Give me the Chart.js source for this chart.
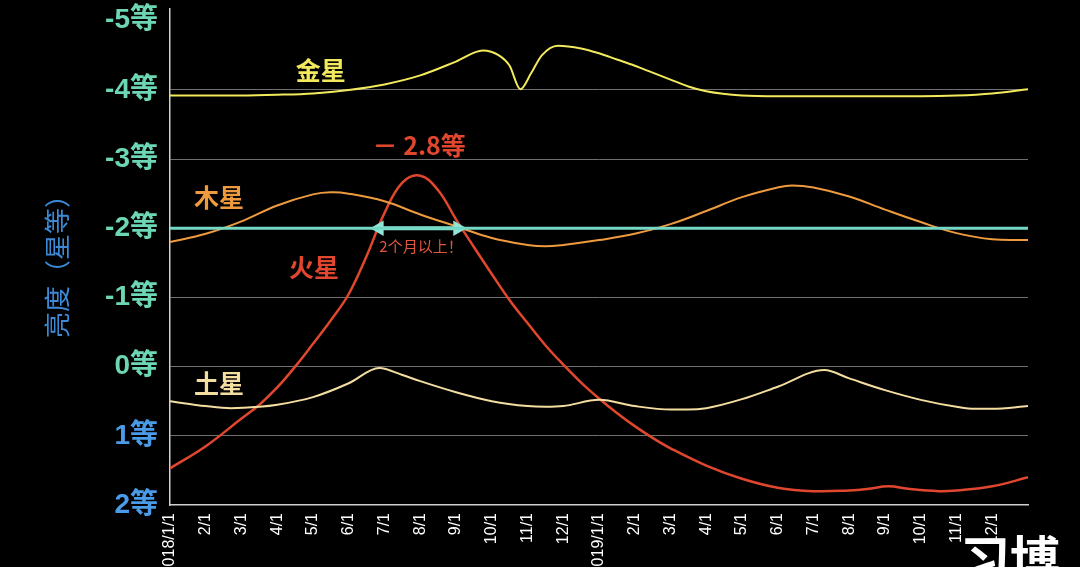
<!DOCTYPE html>
<html>
<head>
<meta charset="utf-8">
<script src="https://cdn.jsdelivr.net/npm/chart.js@4"></script>
<style>
  html, body { margin: 0; padding: 0; background: #000; }
  #wrap { width: 1080px; height: 567px; position: relative; }
</style>
</head>
<body>
<div id="wrap"><canvas id="planetChart" width="1080" height="567"></canvas></div>
<script>
// x = months since 2018/1/1, y = magnitude (smaller = brighter)
const tickLabels = ['2018/1/1', '2/1', '3/1', '4/1', '5/1', '6/1', '7/1', '8/1', '9/1', '10/1', '11/1', '12/1',
    '2019/1/1', '2/1', '3/1', '4/1', '5/1', '6/1', '7/1', '8/1', '9/1', '10/1', '11/1', '12/1', ''];
const magTicks = [-5, -4, -3, -2, -1, 0, 1, 2];

const venusMonths = [0, 1, 2, 3, 4, 5, 6, 7, 8, 8.75, 9.2, 9.5, 9.8, 10.1, 10.4, 10.85, 11.5, 12, 12.5, 13, 13.5, 14, 14.5, 15, 16, 17, 18, 19, 20, 21, 22, 23, 24];
const venusMag = [-3.92, -3.92, -3.92, -3.93, -3.95, -4.0, -4.08, -4.21, -4.41, -4.57, -4.5, -4.35, -4.01, -4.24, -4.5, -4.64, -4.6, -4.53, -4.44, -4.35, -4.25, -4.15, -4.05, -3.98, -3.92, -3.91, -3.91, -3.91, -3.91, -3.91, -3.92, -3.95, -4.01];

const jupiterMonths = [0, 1, 2, 3, 4, 4.5, 5, 6, 7, 8, 9, 10, 10.5, 11, 12, 13, 14, 15, 16, 17, 17.4, 18, 19, 20, 21, 22, 23, 24];
const jupiterMag = [-1.8, -1.92, -2.1, -2.33, -2.49, -2.52, -2.5, -2.39, -2.2, -2.03, -1.86, -1.76, -1.74, -1.76, -1.83, -1.92, -2.06, -2.25, -2.45, -2.59, -2.62, -2.59, -2.46, -2.27, -2.09, -1.93, -1.84, -1.83];

const marsMonths = [0, 1, 2, 2.5, 3, 3.5, 4, 4.5, 5, 5.5, 6, 6.5, 7, 7.5, 8, 8.5, 9, 9.5, 10, 10.5, 11, 11.5, 12, 12.5, 13, 13.5, 14, 15, 16, 17, 18, 19, 19.5, 20.1, 20.7, 21.5, 22, 23, 24];
const marsMag = [1.47, 1.15, 0.75, 0.55, 0.3, 0.0, -0.33, -0.67, -1.05, -1.6, -2.22, -2.66, -2.76, -2.55, -2.13, -1.73, -1.34, -0.96, -0.63, -0.31, -0.03, 0.23, 0.46, 0.67, 0.86, 1.03, 1.18, 1.43, 1.62, 1.75, 1.8, 1.79, 1.77, 1.73, 1.77, 1.8, 1.79, 1.73, 1.6];

const saturnMonths = [0, 1, 1.7, 2.5, 3, 4, 5, 5.85, 6.5, 7, 8, 9, 10, 10.5, 11, 12, 13, 14, 14.5, 15, 16, 17, 18.3, 19, 20, 21, 22, 22.5, 23, 24];
const saturnMag = [0.5, 0.57, 0.6, 0.58, 0.55, 0.44, 0.24, 0.02, 0.12, 0.21, 0.37, 0.5, 0.57, 0.58, 0.57, 0.48, 0.57, 0.62, 0.62, 0.6, 0.47, 0.29, 0.05, 0.17, 0.34, 0.48, 0.58, 0.61, 0.61, 0.57];

// -2 magnitude reference line, and the "more than 2 months" span
const refLineMonths = [0, 24];
const refLineMag = [-2, -2];
const spanMonths = [5.85, 8.05];
const spanMag = [-2, -2];

function toPoints(xs, ys) {
    return xs.map((x, i) => ({ x: x, y: ys[i] }));
}

const FONT = '"Liberation Sans", "Noto Sans CJK SC", sans-serif';
const CJK = '"Noto Sans CJK SC", "Liberation Sans", sans-serif';

// Text labels drawn over the chart
const labelPlugin = {
    id: 'labels',
    afterDraw(chart) {
        const ctx = chart.ctx;
        const xs = chart.scales.x;
        const ys = chart.scales.y;
        const items = [
            { t: '金星', m: 4.22, v: -4.28, c: '#f2ea5c', f: 'bold 25px ' + CJK },
            { t: '木星', m: 1.37, v: -2.45, c: '#ee9a3e', f: 'bold 25px ' + CJK },
            { t: '火星', m: 4.03, v: -1.44, c: '#e0472e', f: 'bold 25px ' + CJK },
            { t: '土星', m: 1.37, v: 0.25, c: '#f3dda0', f: 'bold 25px ' + CJK },
            { t: '－ 2.8等', m: 6.97, v: -3.19, c: '#e0472e', f: 'bold 25px ' + CJK },
            { t: '2个月以上！', m: 7.02, v: -1.74, c: '#e0573e', f: '15px ' + CJK }
        ];
        ctx.save();
        ctx.textAlign = 'center';
        ctx.textBaseline = 'middle';
        items.forEach(function(it) {
            ctx.font = it.f;
            ctx.fillStyle = it.c;
            ctx.fillText(it.t, xs.getPixelForValue(it.m), ys.getPixelForValue(it.v));
        });

        // axis title
        ctx.translate(57, 260);
        ctx.rotate(-Math.PI / 2);
        ctx.font = '26px ' + CJK;
        ctx.fillStyle = '#3c8ad6';
        ctx.fillText('亮度（星等）', 0, 0);
        ctx.restore();

        // watermark
        ctx.save();
        ctx.font = 'bold 50px ' + CJK;
        ctx.fillStyle = '#ffffff';
        ctx.textAlign = 'left';
        ctx.textBaseline = 'alphabetic';
        ctx.fillText('习博', 960, 578);
        ctx.restore();
    }
};

const bgPlugin = {
    id: 'bg',
    beforeDraw(chart) {
        const ctx = chart.ctx;
        ctx.save();
        ctx.fillStyle = '#000';
        ctx.fillRect(0, 0, chart.width, chart.height);
        ctx.restore();
    }
};

new Chart(document.getElementById('planetChart'), {
    type: 'line',
    data: {
        datasets: [
            {
                label: 'ref',
                data: toPoints(refLineMonths, refLineMag),
                borderColor: '#74d8c4',
                borderWidth: 3,
                pointRadius: 0
            },
            {
                label: 'span',
                data: toPoints(spanMonths, spanMag),
                borderColor: '#8ee6d6',
                backgroundColor: '#8ee6d6',
                borderWidth: 4,
                pointStyle: 'triangle',
                pointRadius: 5,
                pointRotation: [-90, 90]
            },
            {
                label: 'Venus',
                data: toPoints(venusMonths, venusMag),
                borderColor: '#f2ea5c',
                borderWidth: 2,
                pointRadius: 0,
                cubicInterpolationMode: 'monotone'
            },
            {
                label: 'Jupiter',
                data: toPoints(jupiterMonths, jupiterMag),
                borderColor: '#ee9a3e',
                borderWidth: 2,
                pointRadius: 0,
                tension: 0.4
            },
            {
                label: 'Saturn',
                data: toPoints(saturnMonths, saturnMag),
                borderColor: '#f3dda0',
                borderWidth: 2,
                pointRadius: 0,
                cubicInterpolationMode: 'monotone'
            },
            {
                label: 'Mars',
                data: toPoints(marsMonths, marsMag),
                borderColor: '#e0472e',
                borderWidth: 2.5,
                pointRadius: 0,
                tension: 0.4
            }
        ]
    },
    options: {
        responsive: false,
        animation: false,
        layout: { padding: { top: 5, right: 52, left: 0, bottom: 0 } },
        plugins: {
            legend: { display: false },
            tooltip: { enabled: false }
        },
        scales: {
            x: {
                type: 'linear',
                min: 0,
                max: 24,
                afterBuildTicks: function(scale) {
                    scale.ticks = tickLabels.map((t, i) => ({ value: i }));
                },
                afterFit: function(scale) {
                    scale.height = 62;
                },
                ticks: {
                    autoSkip: false,
                    minRotation: 90,
                    maxRotation: 90,
                    padding: 8,
                    color: '#ffffff',
                    font: { size: 16, family: FONT },
                    callback: function(value) {
                        return tickLabels[value];
                    }
                },
                grid: { display: false, drawTicks: false },
                border: { display: true, color: '#d0d0d0', width: 1.5 }
            },
            y: {
                type: 'linear',
                reverse: true,
                min: -5.17,
                max: 2,
                afterBuildTicks: function(scale) {
                    scale.ticks = magTicks.map(v => ({ value: v }));
                },
                afterFit: function(scale) {
                    scale.width = 170;
                    scale.paddingTop = 0;
                    scale.paddingBottom = 0;
                },
                ticks: {
                    padding: 12,
                    font: { size: 28, weight: 'bold', family: FONT },
                    color: function(c) {
                        return c.tick.value > 0 ? '#4a9be8' : '#6cd6b5';
                    },
                    callback: function(value) {
                        return value + '等';
                    }
                },
                grid: {
                    drawTicks: false,
                    lineWidth: 1,
                    color: function(c) {
                        const v = c.tick ? c.tick.value : null;
                        return (v === -5 || v === -2 || v === 2) ? 'rgba(0,0,0,0)' : '#707070';
                    }
                },
                border: { display: true, color: '#d0d0d0', width: 1.5 }
            }
        }
    },
    plugins: [bgPlugin, labelPlugin]
});
</script>
</body>
</html>
